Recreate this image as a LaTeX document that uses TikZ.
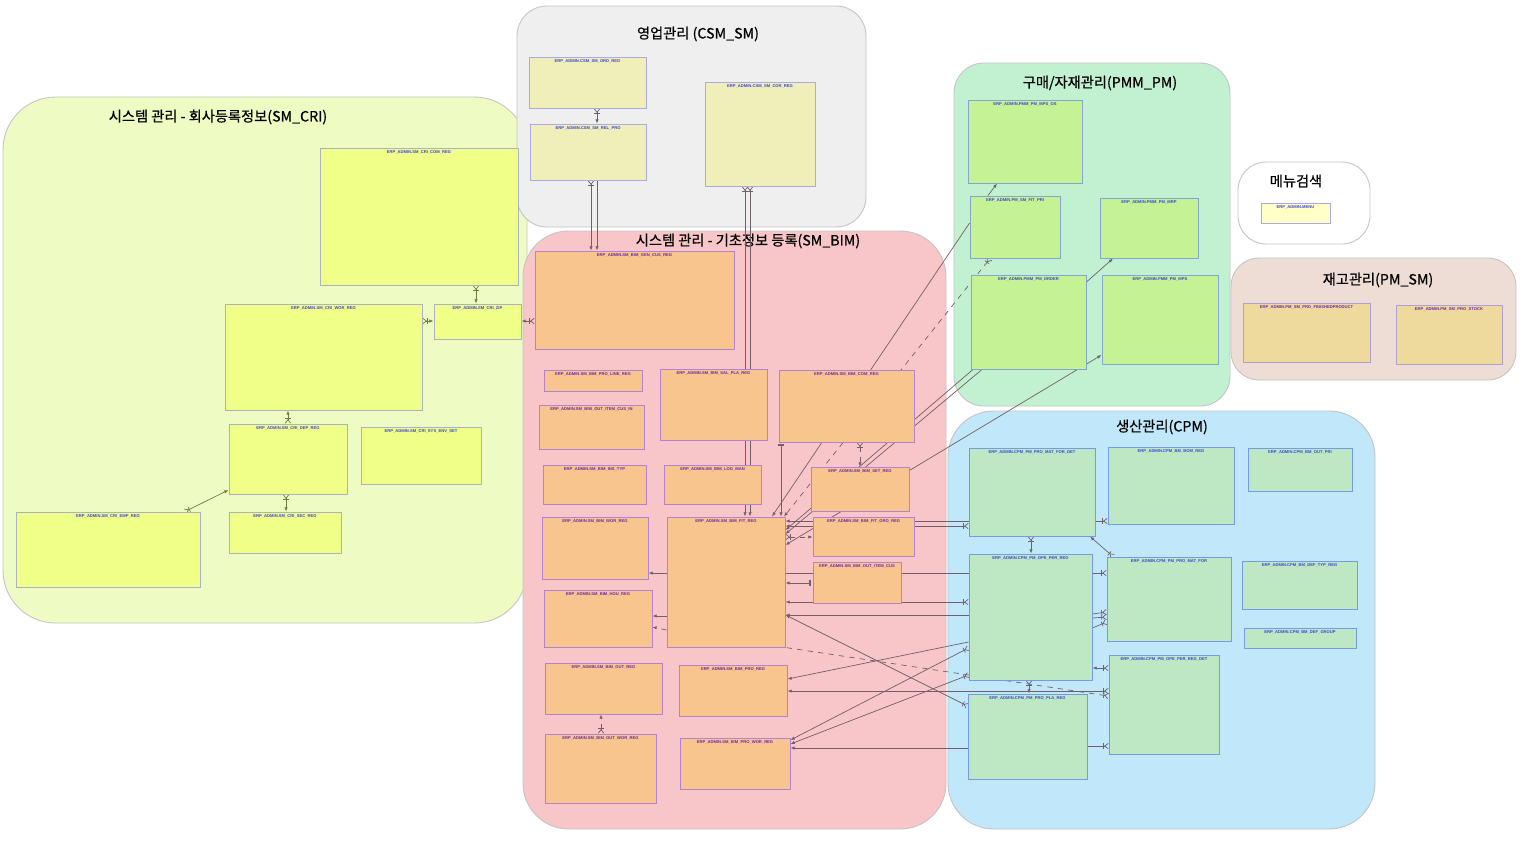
\documentclass[tikz,border=0pt]{standalone}
\usepackage{fontspec}
\setmainfont{Liberation Sans}
\newfontfamily\krfont[FakeBold=0.6]{Noto Sans CJK KR}
\usepackage{tikz}
\usetikzlibrary{arrows.meta, positioning, fit}

\pgfdeclarelayer{bg}
\pgfdeclarelayer{links}
\pgfsetlayers{bg,links,main}

\definecolor{crigrp}{RGB}{238,252,196}
\definecolor{csmgrp}{RGB}{239,239,239}
\definecolor{bimgrp}{RGB}{248,198,200}
\definecolor{pmmgrp}{RGB}{193,241,208}
\definecolor{pmsmgrp}{RGB}{237,221,213}
\definecolor{cpmgrp}{RGB}{192,232,250}
\definecolor{grpline}{RGB}{196,196,196}
\definecolor{crifill}{RGB}{240,255,136}
\definecolor{criline}{RGB}{170,178,196}
\definecolor{csmfill}{RGB}{241,239,185}
\definecolor{csmline}{RGB}{170,170,230}
\definecolor{bimfill}{RGB}{247,197,141}
\definecolor{bimline}{RGB}{180,130,210}
\definecolor{pmmfill}{RGB}{196,242,148}
\definecolor{pmmline}{RGB}{130,165,210}
\definecolor{menufill}{RGB}{255,255,200}
\definecolor{pmsmfill}{RGB}{237,218,156}
\definecolor{pmsmline}{RGB}{176,160,210}
\definecolor{cpmfill}{RGB}{190,232,196}
\definecolor{cpmline}{RGB}{115,155,235}
\definecolor{txtblue}{RGB}{60,70,210}
\definecolor{txtpurple}{RGB}{110,40,170}
\definecolor{linkgray}{RGB}{115,95,105}
\definecolor{linkolive}{RGB}{110,125,70}

\tikzstyle{grp} = [draw=grpline, line width=0.5pt, inner sep=0pt]
\tikzstyle{grptitle} = [font=\krfont\fontsize{8.1}{9.5}\selectfont, text=black]
\tikzstyle{entity} = [draw, line width=0.55pt, inner sep=0pt]
\tikzstyle{cri} = [entity, fill=crifill, draw=criline]
\tikzstyle{csm} = [entity, fill=csmfill, draw=csmline]
\tikzstyle{bim} = [entity, fill=bimfill, draw=bimline]
\tikzstyle{pmm} = [entity, fill=pmmfill, draw=pmmline]
\tikzstyle{menubox} = [entity, fill=menufill, draw=csmline]
\tikzstyle{pmsm} = [entity, fill=pmsmfill, draw=pmsmline]
\tikzstyle{cpm} = [entity, fill=cpmfill, draw=cpmline]
\tikzset{
  lbl/.style={anchor=north, inner sep=1.3pt, text=txtblue, font=\fontsize{2.35}{2.8}\selectfont\bfseries},
  ttl/.style={label={[lbl]north:#1}},
  pttl/.style={label={[lbl, text=txtpurple]north:#1}}
}
\tikzstyle{link} = [draw=linkgray, line width=0.4pt]
\tikzstyle{crowrel} = [link, {Straight Barb[reversed,length=2pt,width=3pt] Bar[width=3pt]}-{Latex[length=2.4pt,width=1.9pt]}]
\tikzstyle{crowline} = [link, {Straight Barb[reversed,length=2pt,width=3pt] Bar[width=3pt]}-]
\tikzstyle{refrel} = [link, -{Latex[length=2.4pt,width=1.9pt]}]
\tikzstyle{onerel} = [link, {Bar[width=3pt,sep=1pt] Bar[width=3pt]}-{Latex[length=2.4pt,width=1.9pt]}]
\tikzstyle{bothrel} = [link, {Latex[length=2.4pt,width=1.9pt]}-{Latex[length=2.4pt,width=1.9pt]}]

\begin{document}
\begin{tikzpicture}[x=0.02cm, y=-0.02cm]
    \useasboundingbox (0,0) rectangle (1526,843);

    % CSM_SM tables
    \node[csm, ttl=ERP\_ADMIN.CSM\_SM\_ORD\_REG, fit={(529,57) (646,108)}] (ordreg) {};
    \node[csm, ttl=ERP\_ADMIN.CSM\_SM\_REL\_PRO, fit={(530,124) (646,180)}] (relpro) {};
    \node[csm, ttl=ERP\_ADMIN.CSM\_SM\_COR\_REG, fit={(705,82) (815,186)}] (correg) {};

    % SM_CRI tables
    \node[cri, ttl=ERP\_ADMIN.SM\_CRI\_COM\_REG, fit={(320,148) (518,285)}] (cricom) {};
    \node[cri, ttl=ERP\_ADMIN.SM\_CRI\_WOR\_REG, fit={(225,304) (422,410)}] (criwor) {};
    \node[cri, ttl=ERP\_ADMIN.SM\_CRI\_ZIP, fit={(434,304) (521,339)}] (crizip) {};
    \node[cri, ttl=ERP\_ADMIN.SM\_CRI\_DEP\_REG, fit={(229,424) (347,494)}] (cridep) {};
    \node[cri, ttl=ERP\_ADMIN.SM\_CRI\_SYS\_ENV\_SET, fit={(361,427) (481,484)}] (crisys) {};
    \node[cri, ttl=ERP\_ADMIN.SM\_CRI\_EMP\_REG, fit={(16,512) (200,587)}] (criemp) {};
    \node[cri, ttl=ERP\_ADMIN.SM\_CRI\_SEC\_REG, fit={(229,512) (341,553)}] (crisec) {};

    % SM_BIM tables
    \node[bim, pttl=ERP\_ADMIN.SM\_BIM\_GEN\_CUS\_REG, fit={(535,251) (734,349)}] (gencus) {};
    \node[bim, pttl=ERP\_ADMIN.SM\_BIM\_PRO\_LINE\_REG, fit={(544,370) (642,391)}] (proline) {};
    \node[bim, pttl=ERP\_ADMIN.SM\_BIM\_SAL\_PLA\_REG, fit={(660,369) (767,440)}] (salpla) {};
    \node[bim, pttl=ERP\_ADMIN.SM\_BIM\_COM\_REG, fit={(779,370) (914,442)}] (comreg) {};
    \node[bim, pttl=ERP\_ADMIN.SM\_BIM\_OUT\_ITEM\_CUS\_IN, fit={(539,405) (644,449)}] (outcusin) {};
    \node[bim, pttl=ERP\_ADMIN.SM\_BIM\_INS\_TYP, fit={(543,465) (646,504)}] (instyp) {};
    \node[bim, pttl=ERP\_ADMIN.SM\_BIM\_LOG\_MAN, fit={(664,465) (761,504)}] (logman) {};
    \node[bim, pttl=ERP\_ADMIN.SM\_BIM\_SET\_REG, fit={(811,467) (909,511)}] (setreg) {};
    \node[bim, pttl=ERP\_ADMIN.SM\_BIM\_WOR\_REG, fit={(542,517) (648,579)}] (bimwor) {};
    \node[bim, pttl=ERP\_ADMIN.SM\_BIM\_FIT\_REG, fit={(667,517) (785,647)}] (fitreg) {};
    \node[bim, pttl=ERP\_ADMIN.SM\_BIM\_FIT\_GRO\_REG, fit={(813,517) (914,556)}] (fitgro) {};
    \node[bim, pttl=ERP\_ADMIN.SM\_BIM\_OUT\_ITEM\_CUS, fit={(813,562) (901,603)}] (outcus) {};
    \node[bim, pttl=ERP\_ADMIN.SM\_BIM\_HOU\_REG, fit={(544,590) (652,647)}] (houreg) {};
    \node[bim, pttl=ERP\_ADMIN.SM\_BIM\_OUT\_REG, fit={(545,663) (662,714)}] (outreg) {};
    \node[bim, pttl=ERP\_ADMIN.SM\_BIM\_PRO\_REG, fit={(679,665) (787,716)}] (proreg) {};
    \node[bim, pttl=ERP\_ADMIN.SM\_BIM\_OUT\_WOR\_REG, fit={(545,734) (656,803)}] (outwor) {};
    \node[bim, pttl=ERP\_ADMIN.SM\_BIM\_PRO\_WOR\_REG, fit={(680,738) (790,789)}] (prowor) {};

    % PMM_PM tables
    \node[pmm, ttl=ERP\_ADMIN.PMM\_PM\_MPS\_OS, fit={(968,100) (1082,183)}] (mpsos) {};
    \node[pmm, ttl=ERP\_ADMIN.PM\_SM\_FIT\_PRI, fit={(970,196) (1060,258)}] (fitpri) {};
    \node[pmm, ttl=ERP\_ADMIN.PMM\_PM\_MRP, fit={(1100,198) (1198,258)}] (mrp) {};
    \node[pmm, ttl=ERP\_ADMIN.PMM\_PM\_ORDER, fit={(971,275) (1086,369)}] (order) {};
    \node[pmm, ttl=ERP\_ADMIN.PMM\_PM\_MPS, fit={(1102,275) (1218,364)}] (mps) {};

    % Menu and PM_SM tables
    \node[menubox, ttl=ERP\_ADMIN.MENU, fit={(1261,203) (1330,223)}] (menu) {};
    \node[pmsm, pttl=ERP\_ADMIN.PM\_SM\_PRO\_FINISHEDPRODUCT, fit={(1243,303) (1370,362)}] (finprod) {};
    \node[pmsm, pttl=ERP\_ADMIN.PM\_SM\_PRO\_STOCK, fit={(1396,305) (1502,364)}] (stock) {};

    % CPM tables
    \node[cpm, ttl=ERP\_ADMIN.CPM\_PM\_PRO\_MAT\_FOR\_DET, fit={(969,448) (1095,536)}] (matdet) {};
    \node[cpm, ttl=ERP\_ADMIN.CPM\_BM\_BOM\_REG, fit={(1108,447) (1234,524)}] (bom) {};
    \node[cpm, ttl=ERP\_ADMIN.CPM\_BM\_OUT\_PRI, fit={(1248,448) (1352,491)}] (outpri) {};
    \node[cpm, ttl=ERP\_ADMIN.CPM\_PM\_OPE\_PER\_REG, fit={(969,554) (1092,680)}] (operreg) {};
    \node[cpm, ttl=ERP\_ADMIN.CPM\_PM\_PRO\_MAT\_FOR, fit={(1107,557) (1231,641)}] (matfor) {};
    \node[cpm, ttl=ERP\_ADMIN.CPM\_BM\_DEF\_TYP\_REG, fit={(1242,561) (1357,609)}] (deftyp) {};
    \node[cpm, ttl=ERP\_ADMIN.CPM\_BM\_DEF\_GROUP, fit={(1244,628) (1356,648)}] (defgrp) {};
    \node[cpm, ttl=ERP\_ADMIN.CPM\_PM\_OPE\_PER\_REG\_DET, fit={(1109,655) (1219,754)}] (operdet) {};
    \node[cpm, ttl=ERP\_ADMIN.CPM\_PM\_PRO\_PLA\_REG, fit={(968,694) (1087,779)}] (prapla) {};

    % Groups
    \begin{pgfonlayer}{bg}
        \fill[white] (0,0) rectangle (1526,843);
        \node[grp, fill=crigrp, rounded corners=30pt, fit={(3,97) (527,623)}] (gcri) {};
        \node[grp, fill=csmgrp, rounded corners=17pt, fit={(517,6) (866,227)}] (gcsm) {};
        \node[grp, fill=bimgrp, rounded corners=26pt, fit={(523,231) (946,829)}] (gbim) {};
        \node[grp, fill=pmmgrp, rounded corners=17pt, fit={(954,63) (1230,406)}] (gpmm) {};
        \node[grp, fill=white, rounded corners=16pt, fit={(1238,162) (1370,244)}] (gmenu) {};
        \node[grp, fill=pmsmgrp, rounded corners=16pt, fit={(1231,258) (1516,380)}] (gpmsm) {};
        \node[grp, fill=cpmgrp, rounded corners=26pt, fit={(948,411) (1375,829)}] (gcpm) {};

        \node[grptitle] (tcri) at (218,117) {시스템 관리 - 회사등록정보(SM\_CRI)};
        \node[grptitle] (tcsm) at (698,34) {영업관리 (CSM\_SM)};
        \node[grptitle] (tbim) at (748,241) {시스템 관리 - 기초정보 등록(SM\_BIM)};
        \node[grptitle] (tpmm) at (1100,83) {구매/자재관리(PMM\_PM)};
        \node[grptitle] (tmenu) at (1296,181) {메뉴검색};
        \node[grptitle] (tpmsm) at (1378,280) {재고관리(PM\_SM)};
        \node[grptitle] (tcpm) at (1162,427) {생산관리(CPM)};
    \end{pgfonlayer}

    \begin{pgfonlayer}{links}
    % SM_CRI relations
    \draw[crowrel, draw=linkolive] (cricom.south -| 476,0) -- (crizip.north -| 476,0);
    \draw[crowrel, draw=linkolive] (criwor.east |- 0,321) -- (crizip.west |- 0,321);
    \draw[crowrel, draw=linkolive] (cridep.north -| 288,0) -- (criwor.south -| 288,0);
    \draw[crowrel, draw=linkolive] (cridep.south -| 286,0) -- (crisec.north -| 286,0);
    \draw[crowrel, draw=linkolive] (criemp.north -| 185,0) -- (cridep.west |- 0,490);
    \draw[crowrel] (gencus.west |- 0,321) -- (crizip.east |- 0,321);

    % CSM_SM relations
    \draw[crowrel] (ordreg.south -| 597,0) -- (relpro.north -| 597,0);
    \draw[crowrel] (relpro.south -| 591,0) -- (gencus.north -| 591,0);
    \draw[refrel] (relpro.south -| 597,0) -- (gencus.north -| 597,0);
    \draw[crowrel] (correg.south -| 745,0) -- (fitreg.north -| 745,0);
    \draw[crowrel] (correg.south -| 750,0) -- (fitreg.north -| 750,0);

    % SM_BIM relations
    \draw[onerel] (comreg.south -| 781,0) -- (fitreg.north -| 781,0);
    \draw[crowrel, dashed] (comreg.south -| 860,0) -- (setreg.north -| 860,0);
    \draw[refrel] (fitreg.west |- 0,573) -- (bimwor.east |- 0,573);
    \draw[refrel] (fitreg.west |- 0,616) -- (houreg.east |- 0,616);
    \draw[refrel, dashed] (fitreg.west |- 0,630) -- (houreg.east |- 0,627);
    \draw[crowrel, dashed] (outwor.north -| 601,0) -- (outreg.south -| 601,0);
    \draw[crowrel, dashed] (fitreg.east |- 0,537) -- (fitgro.west |- 0,537);
    \draw[onerel] (outcus.west |- 0,583) -- (fitreg.east |- 0,583);

    % PMM_PM relations
    \draw[refrel] (fitpri.north -| 988,0) -- (mpsos.south -| 997,0);
    \draw[refrel] (order.east |- 0,282) -- (mrp.south -| 1113,0);
    \draw[refrel] (fitpri.west |- 0,223) -- (fitreg.north -| 772,0);
    \draw[crowrel, dashed] (fitpri.south -| 990,0) -- (fitreg.north -| 784,0);
    \draw[refrel] (order.south -| 973,0) -- (fitreg.east |- 0,530);
    \draw[refrel] (order.south -| 982,0) -- (fitreg.east |- 0,534);
    \draw[bothrel] (mps.west |- 0,355) -- (fitreg.east |- 0,545);

    % CPM relations
    \draw[refrel] (matdet.west |- 0,521) -- (fitreg.east |- 0,521);
    \draw[crowrel] (matdet.west |- 0,526) -- (fitreg.east |- 0,526);
    \draw[link] (fitreg.east |- 0,573) -- (operreg.west |- 0,573);
    \draw[crowrel] (operreg.west |- 0,602) -- (fitreg.east |- 0,602);
    \draw[refrel] (operreg.west |- 0,615) -- (fitreg.east |- 0,615);
    \draw[crowrel] (prapla.west |- 0,706) -- (fitreg.east |- 0,615);
    \draw[crowline, dashed] (operdet.west |- 0,696) -- (fitreg.south east);
    \draw[refrel] (operreg.west |- 0,642) -- (proreg.east |- 0,679);
    \draw[crowrel] (operdet.west |- 0,691) -- (proreg.east |- 0,691);
    \draw[crowrel] (operreg.west |- 0,648) -- (prowor.east |- 0,740);
    \draw[crowrel] (operreg.west |- 0,675) -- (prowor.east |- 0,744);
    \draw[refrel] (prapla.west |- 0,748) -- (prowor.east |- 0,748);
    \draw[crowrel] (matdet.south -| 1031,0) -- (operreg.north -| 1031,0);
    \draw[crowline] (bom.west |- 0,521) -- (matdet.east |- 0,521);
    \draw[crowrel] (matfor.north -| 1113,0) -- (matdet.south -| 1090,0);
    \draw[crowline] (matfor.west |- 0,573) -- (operreg.east |- 0,573);
    \draw[crowline] (matfor.west |- 0,612) -- (operreg.east |- 0,614);
    \draw[crowline] (matfor.west |- 0,617) -- (operreg.east |- 0,618);
    \draw[crowline] (matfor.west |- 0,622) -- (operreg.east |- 0,628);
    \draw[crowrel] (operdet.west |- 0,668) -- (operreg.east |- 0,668);
    \draw[crowrel] (operreg.south -| 1029,0) -- (prapla.north -| 1029,0);
    \draw[crowline] (operdet.west |- 0,746) -- (prapla.east |- 0,746);
    \end{pgfonlayer}

\end{tikzpicture}
\end{document}
